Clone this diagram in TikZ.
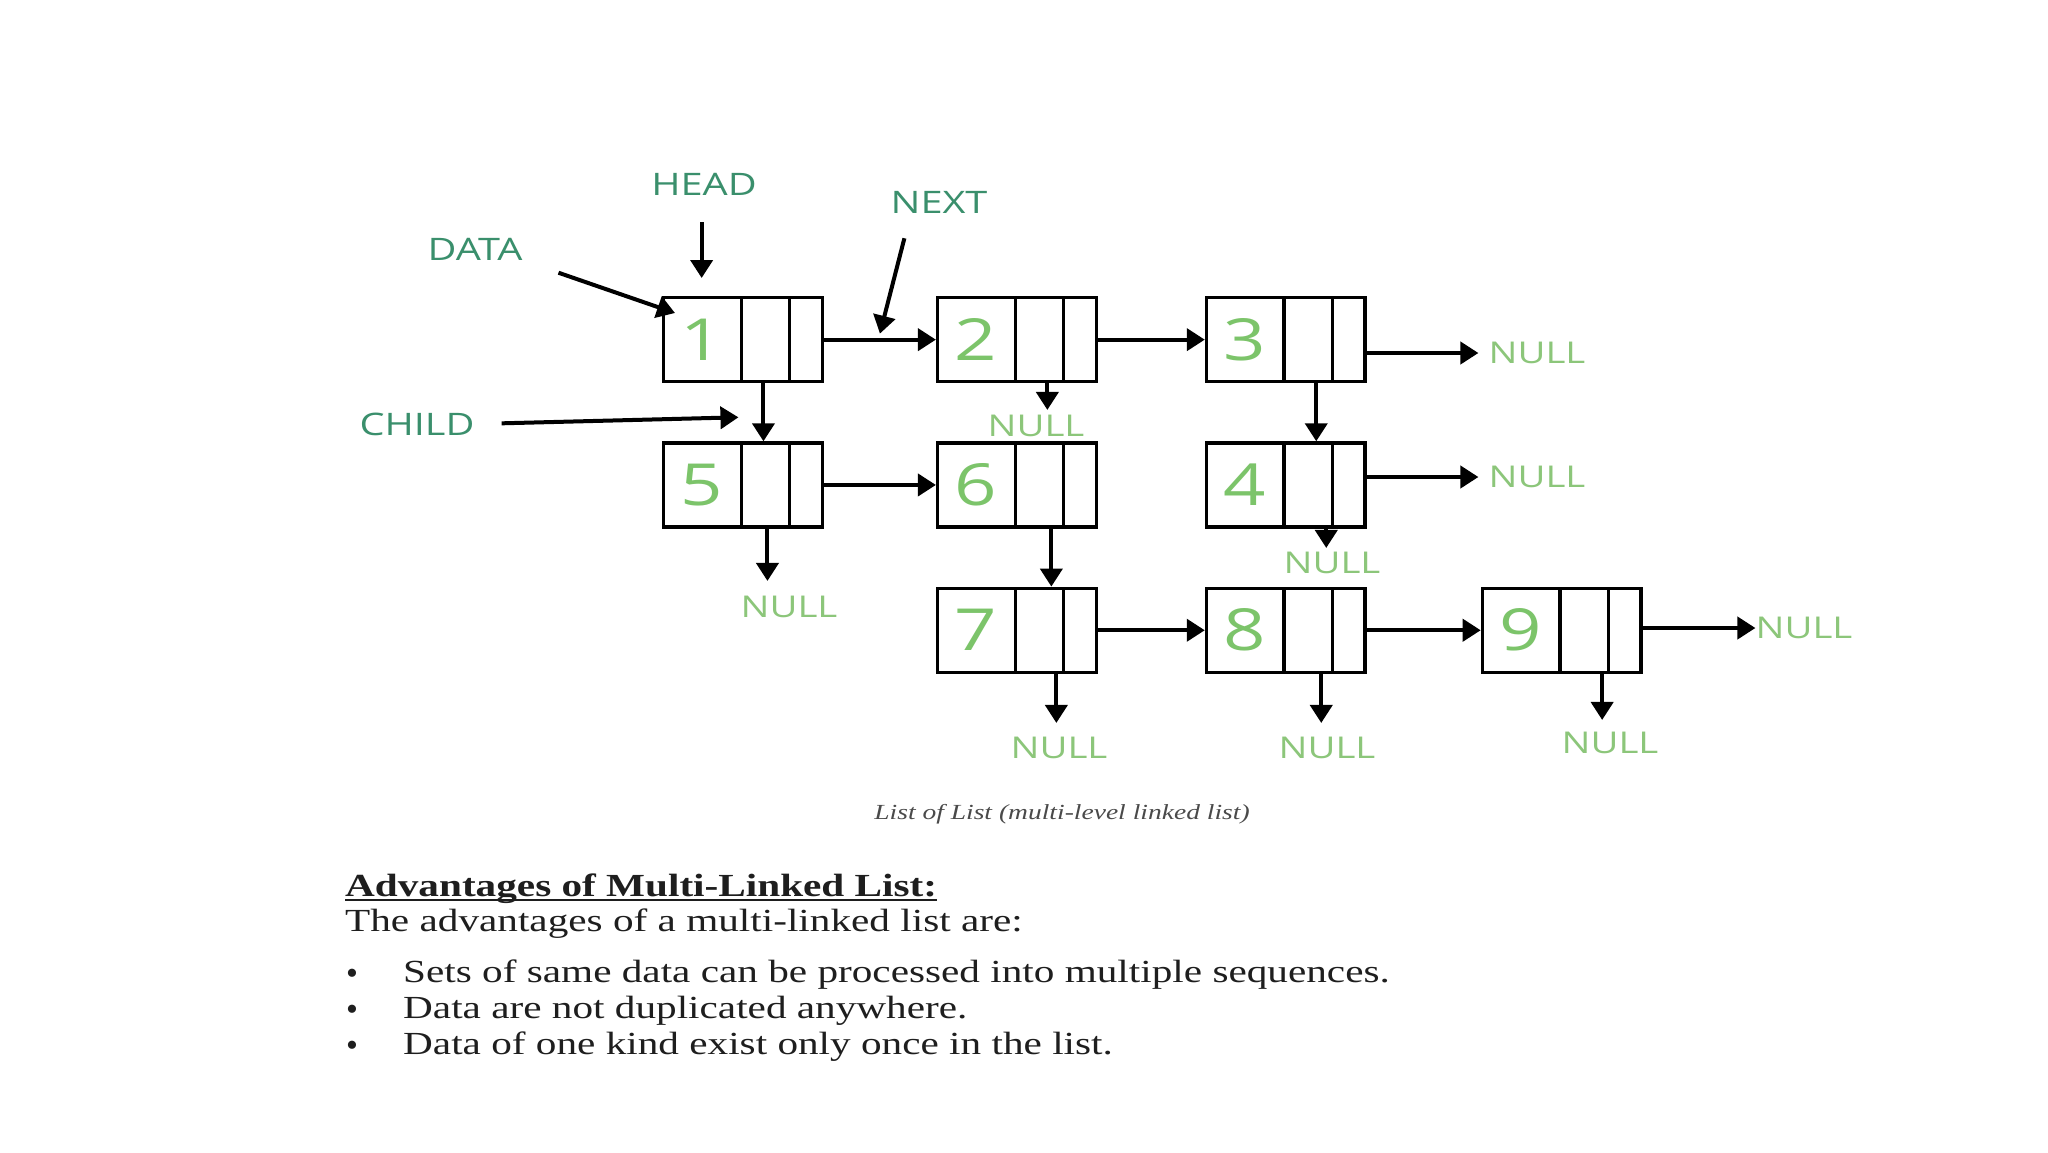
\documentclass[tikz,border=0pt]{standalone}
\usepackage{fontspec}
\usepackage{graphicx}
\setmainfont{Liberation Serif}
\newfontfamily\labelfont{Open Sans}
\usetikzlibrary{shapes.multipart,arrows.meta,positioning,calc}
\definecolor{tagteal}{HTML}{3A8F6C}
\definecolor{nullgreen}{HTML}{8CC67A}
\definecolor{numgreen}{HTML}{7CC46A}
\definecolor{capgray}{HTML}{4A4A4A}
\definecolor{ink}{HTML}{1E1E1E}
% the source picture is stretched sideways
\newcommand{\wide}[1]{\scalebox{1.28}[1]{#1}}
\newcommand{\cells}[1]{\parbox[c][84pt][c]{76pt}{\centering\wide{#1}}\nodepart{two}\parbox[c][84pt]{45pt}{\mbox{}}\nodepart{three}\parbox[c][84pt]{31pt}{\mbox{}}}

\begin{document}
\begin{tikzpicture}[x=1pt, y=-1pt,
  node distance=58pt and 112pt,
  >={Triangle[width=22pt,length=18pt]},
  mlnode/.style={rectangle split, rectangle split horizontal, rectangle split parts=3,
    draw=black, line width=3.3pt, inner sep=0pt, text=numgreen,
    font=\labelfont\fontsize{58}{58}\selectfont},
  tagtext/.style={inner sep=0pt, text=tagteal, font=\labelfont\fontsize{31}{31}\selectfont},
  nul/.style={inner sep=0pt, text=nullgreen, font=\labelfont\fontsize{30}{30}\selectfont},
  arr/.style={->, line width=4pt, draw=black},
  para/.style={inner sep=0pt, anchor=base west, text=ink, font=\fontsize{32.2}{38}\selectfont}]
\fill[white] (0,0) rectangle (2048,1152);
\useasboundingbox (0,0) rectangle (2048,1152);

% list nodes
\node[mlnode, anchor=north west] (n1) at (662,296) {\cells{1}};
\node[mlnode, right=of n1] (n2) {\cells{2}};
\node[mlnode, right=107pt of n2] (n3) {\cells{3}};
\node[mlnode, below=of n1] (n5) {\cells{5}};
\node[mlnode, below=of n2] (n6) {\cells{6}};
\node[mlnode, below=of n3] (n4) {\cells{4}};
\node[mlnode, below=of n6] (n7) {\cells{7}};
\node[mlnode, below=of n4] (n8) {\cells{8}};
\node[mlnode, right=114pt of n8] (n9) {\cells{9}};

% next pointers
\draw[arr] (n1.east) -- (n2.west);
\draw[arr] (n2.east) -- (n3.west);
\draw[arr] (n5.east) -- (n6.west);
\draw[arr] (n7.east) -- (n8.west);
\draw[arr] (n8.east) -- (n9.west);

% child pointers
\coordinate (k1) at ([xshift=-2pt]n1.two south);
\coordinate (k3) at ([xshift=8pt]n3.two south);
\coordinate (k6) at ([xshift=12pt]n6.two south);
\draw[arr] (k1) -- (k1 |- n5.north);
\draw[arr] (k3) -- (k3 |- n4.north);
\draw[arr] (k6) -- (k6 |- n7.north);

% NULL ends
\node[nul] (z2) at (1036,426) {\wide{NULL}};
\node[nul] (z3) at (1537,353) {\wide{NULL}};
\node[nul] (z4r) at (1537,477) {\wide{NULL}};
\node[nul] (z4d) at (1332,563) {\wide{NULL}};
\node[nul] (z5) at (789,607) {\wide{NULL}};
\node[nul] (z7) at (1059,748) {\wide{NULL}};
\node[nul] (z8) at (1327,748) {\wide{NULL}};
\node[nul] (z9d) at (1610,743) {\wide{NULL}};
\node[nul] (z9r) at (1804,628) {\wide{NULL}};
\coordinate (d2) at ([xshift=8pt]n2.two south);
\coordinate (d4) at ([xshift=18pt]n4.two south);
\coordinate (d5) at ([xshift=2pt]n5.two south);
\coordinate (d7) at ([xshift=17pt]n7.two south);
\coordinate (d8) at ([xshift=13pt]n8.two south);
\coordinate (d9) at ([xshift=18pt]n9.two south);
\draw[arr, shorten >=5pt] (d2) -- (d2 |- z2.north);
\draw[arr, shorten >=4pt] (d4) -- (d4 |- z4d.north);
\draw[arr, shorten >=15pt] (d5) -- (d5 |- z5.north);
\draw[arr, shorten >=14pt] (d7) -- (d7 |- z7.north);
\draw[arr, shorten >=14pt] (d8) -- (d8 |- z8.north);
\draw[arr, shorten >=12pt] (d9) -- (d9 |- z9d.north);
\draw[arr, shorten >=10pt] (n3.east |- z3.west) -- (z3.west);
\draw[arr, shorten >=10pt] (n4.east |- z4r.west) -- (z4r.west);
\draw[arr] (n9.east |- z9r.west) -- (z9r.west);

% field labels
\node[tagtext] (head) at (704,184) {\wide{HEAD}};
\node[tagtext] (data) at (475,249) {\wide{DATA}};
\node[tagtext] (next) at (939,202) {\wide{NEXT}};
\node[tagtext] (child) at (417,424) {\wide{CHILD}};
\coordinate (datatip) at ($(n1.north west)+(13,17)$);
\coordinate (nexttip) at ($(n1.east)!0.5!(n2.west)+(0,-6)$);
\coordinate (childtip) at ($(n1.two south)!0.5!(n5.two north)+(-27,5)$);
\draw[arr, shorten <=27pt, shorten >=18pt] (n1.one north |- head.south) -- (n1.one north);
\draw[arr, shorten <=38pt] (data.south east) -- (datatip);
\draw[arr] ($(next.south west)+(14,25)$) -- (nexttip);
\draw[arr, shorten <=27pt] (child.east) -- (childtip);

% caption and notes
\node[inner sep=0pt, text=capgray, font=\itshape\fontsize{21.5}{21.5}\selectfont] (caption) at (1062,814)
  {\wide{List of List (multi-level linked list)}};
\node[para, font=\bfseries\fontsize{32.2}{38}\selectfont] (adv) at (345,896) {\wide{Advantages of Multi-Linked List:}};
\draw[line width=2pt, ink] ([yshift=-4pt]adv.base west) -- ([yshift=-4pt]adv.base east);
\node[para] (intro) at (345,931) {\wide{The advantages of a multi-linked list are:}};
\node[para, anchor=base, font=\fontsize{34}{34}\selectfont] (dot1) at (352,984) {\textbullet};
\node[para, anchor=base, font=\fontsize{34}{34}\selectfont] (dot2) at (352,1020) {\textbullet};
\node[para, anchor=base, font=\fontsize{34}{34}\selectfont] (dot3) at (352,1056) {\textbullet};
\node[para] (b1) at (403,982) {\wide{Sets of same data can be processed into multiple sequences.}};
\node[para] (b2) at (403,1018) {\wide{Data are not duplicated anywhere.}};
\node[para] (b3) at (403,1054) {\wide{Data of one kind exist only once in the list.}};
\end{tikzpicture}
\end{document}
